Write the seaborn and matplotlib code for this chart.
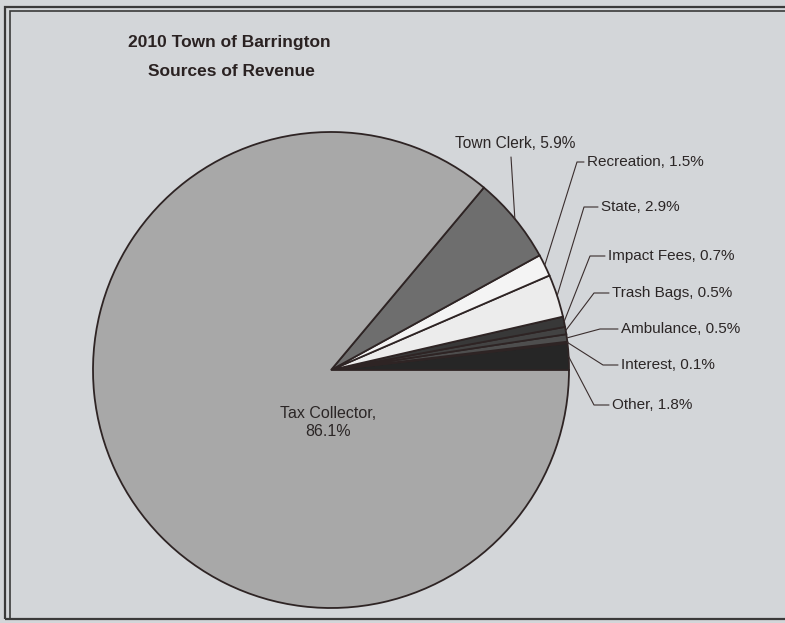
import numpy as np
import matplotlib
matplotlib.use("Agg")
import matplotlib.pyplot as plt
import seaborn as sns
from matplotlib.patches import Rectangle

sns.set_style("white")
plt.rcParams['font.family'] = ['Liberation Sans', 'DejaVu Sans']

# revenue shares, counter-clockwise from 3 o'clock
sources = ['Other', 'Interest', 'Ambulance', 'Trash Bags', 'Impact Fees',
           'State', 'Recreation', 'Town Clerk', 'Tax Collector']
shares = [1.8, 0.1, 0.5, 0.5, 0.7, 2.9, 1.5, 5.9, 86.1]
colors = ['#262626', '#9a9a9a', '#4e4e4e', '#434343', '#383838',
          '#ececec', '#f4f4f4', '#6e6e6e', '#a8a8a8']

bg = '#d3d6d9'
W, H = 785, 623
fig = plt.figure(figsize=(W / 100, H / 100), dpi=100, facecolor=bg)
ax = fig.add_axes([0, 0, 1, 1])
ax.set_facecolor(bg)

cx, cy, r = 331, H - 370, 238
wedges, _ = ax.pie(shares, colors=colors, startangle=0, counterclock=True,
                   center=(cx, cy), radius=r,
                   wedgeprops=dict(edgecolor='#2e2424', linewidth=1.3))
ax.set_xlim(0, W)
ax.set_ylim(0, H)
ax.set_aspect('equal')
ax.axis('off')

# label layout: (elbow x, elbow y, text x) in pixels, y from top
layout = {
    'Recreation': (577, 162, 587),
    'State': (584, 207, 601),
    'Impact Fees': (590, 256, 608),
    'Trash Bags': (594, 293, 612),
    'Ambulance': (600, 329, 621),
    'Interest': (603, 365, 621),
    'Other': (594, 405, 612),
}
txt_col = '#2b2626'
line_col = '#3a2e2e'

for w, name, val in zip(wedges, sources, shares):
    mid = np.deg2rad((w.theta1 + w.theta2) / 2)
    ex, ey = cx + r * np.cos(mid), cy + r * np.sin(mid)
    label = f'{name}, {val}%'
    if name == 'Tax Collector':
        ax.text(328, H - 423, 'Tax Collector,\n86.1%', ha='center', va='center',
                fontsize=11.5, color=txt_col, linespacing=1.25)
    elif name == 'Town Clerk':
        ax.plot([ex, 511], [ey, H - 157], color=line_col, lw=0.8)
        ax.text(515, H - 143, label, ha='center', va='center',
                fontsize=11.2, color=txt_col)
    else:
        bx, by, tx = layout[name]
        ax.plot([ex, bx, tx - 3], [ey, H - by, H - by], color=line_col, lw=0.8)
        ax.text(tx, H - by, label, ha='left', va='center',
                fontsize=11, color=txt_col)

title_font = dict(fontsize=12.5, fontweight='bold', color='#2a2222')
fig.text(229 / W, 1 - 42 / H, '2010 Town of Barrington', ha='center', va='center',
         **title_font)
fig.text(231 / W, 1 - 72 / H, 'Sources of Revenue', ha='center', va='center',
         **title_font)

# double frame, cut off on the right like the scan
for x0, y0, lw in [(4.5, 6.5, 1.6), (9.5, 11, 1.2)]:
    fig.add_artist(Rectangle((x0 / W, (H - 619) / H), (W + 20) / W, (619 - y0) / H,
                             transform=fig.transFigure, fill=False,
                             edgecolor='#3a3a3a', lw=lw))

fig.savefig('out.png', dpi=100, facecolor=bg)
